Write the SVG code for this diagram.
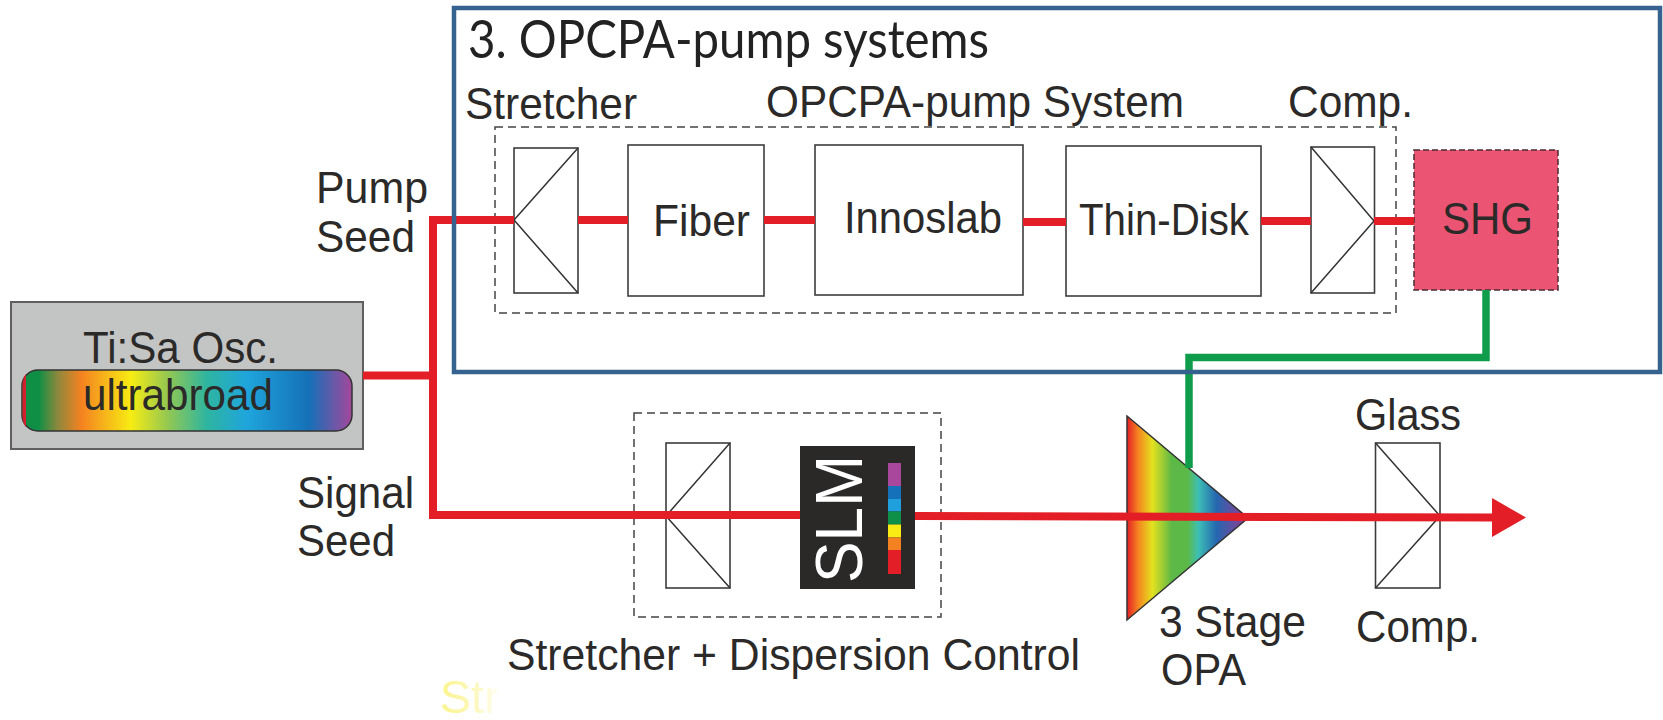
<svg xmlns="http://www.w3.org/2000/svg" width="1663" height="720" viewBox="0 0 1663 720">
<style>
text{font-family:"Liberation Sans",Arial,sans-serif;font-size:45px;fill:#2b2a29}
.box{fill:#fff;stroke:#3c3c3c;stroke-width:1.6}
.ln{fill:none;stroke:#333;stroke-width:1.5}
.dash{fill:none;stroke:#444;stroke-width:1.5;stroke-dasharray:8 5}
.red{fill:none;stroke:#e31e26;stroke-width:8}
.green{fill:none;stroke:#0f9d4b;stroke-width:7.500}
</style>
<defs>
<linearGradient id="rb"><stop offset="0" stop-color="#0e8f45"/><stop offset=".05" stop-color="#0e8f45"/><stop offset=".11" stop-color="#90883c"/><stop offset=".18" stop-color="#f58220"/><stop offset=".33" stop-color="#f7ec13"/><stop offset=".44" stop-color="#95c850"/><stop offset=".56" stop-color="#2eb5a0"/><stop offset=".68" stop-color="#1fa5dc"/><stop offset=".87" stop-color="#1570b8"/><stop offset="1" stop-color="#a5479b"/></linearGradient>
<linearGradient id="tri"><stop offset="0" stop-color="#e31e26"/><stop offset=".09" stop-color="#f58220"/><stop offset=".21" stop-color="#e4e21f"/><stop offset=".37" stop-color="#5cb947"/><stop offset=".5" stop-color="#5cb947"/><stop offset=".59" stop-color="#3dbfb5"/><stop offset=".74" stop-color="#2567b0"/><stop offset=".97" stop-color="#8c3f97"/></linearGradient>
<linearGradient id="fade"><stop offset="0" stop-color="#fbf48c"/><stop offset=".6" stop-color="#fcf8c0"/><stop offset="1" stop-color="#fffef2"/></linearGradient>
<marker id="arrow" markerUnits="userSpaceOnUse" markerWidth="36" markerHeight="40" refX="1" refY="19.500" orient="auto"><path d="M0 0L34 19.500L0 39Z" fill="#e31e26"/></marker>
<clipPath id="cut"><rect x="430" y="670" width="67" height="45"/></clipPath>
</defs>
<rect width="1663" height="720" fill="#fff"/>

<g id="osc">
<rect x="11" y="302" width="352" height="147" fill="#c3c4c4" stroke="#5f5f5f" stroke-width="2"/>
<rect x="22" y="370" width="330" height="61" rx="16" fill="url(#rb)" stroke="#333" stroke-width="1.5"/>
<path d="M26 374Q22.500 378 22.500 386V415Q22.500 423 26 427Z" fill="#d3202c"/>
<text x="83" y="363" textLength="195" lengthAdjust="spacingAndGlyphs">Ti:Sa Osc.</text>
<text x="83" y="410" textLength="190" lengthAdjust="spacingAndGlyphs">ultrabroad</text>
</g>

<g id="pump-seed-label"><text x="316" y="203" textLength="112" lengthAdjust="spacingAndGlyphs">Pump</text><text x="316" y="252" textLength="99" lengthAdjust="spacingAndGlyphs">Seed</text></g>
<g id="signal-seed-label"><text x="297" y="508" textLength="117" lengthAdjust="spacingAndGlyphs">Signal</text><text x="297" y="556" textLength="98" lengthAdjust="spacingAndGlyphs">Seed</text></g>

<g id="pump-system">
<rect class="dash" x="495" y="127" width="901" height="186"/>
<text x="766" y="117" textLength="418" lengthAdjust="spacingAndGlyphs">OPCPA-pump System</text>
</g>
<g id="pump-stretcher"><rect class="box" x="514" y="148" width="64" height="145"/><path class="ln" d="M578 148L514 220L578 293"/><text x="465" y="119" textLength="172" lengthAdjust="spacingAndGlyphs">Stretcher</text></g>
<g id="fiber"><rect class="box" x="628" y="145" width="136" height="151"/><text x="653" y="236" textLength="97" lengthAdjust="spacingAndGlyphs">Fiber</text></g>
<g id="innoslab"><rect class="box" x="815" y="145" width="208" height="150"/><text x="844" y="233" textLength="158" lengthAdjust="spacingAndGlyphs">Innoslab</text></g>
<g id="thin-disk"><rect class="box" x="1066" y="146" width="195" height="150"/><text x="1079" y="235" textLength="170" lengthAdjust="spacingAndGlyphs">Thin-Disk</text></g>
<g id="pump-comp"><rect class="box" x="1311" y="147" width="63.500" height="146"/><path class="ln" d="M1311 147L1374 221L1311 293"/><text x="1288" y="117" textLength="125" lengthAdjust="spacingAndGlyphs">Comp.</text></g>
<g id="shg"><rect x="1414" y="150" width="144" height="140" fill="#eb5573" stroke="#4a2a35" stroke-width="1.5" stroke-dasharray="6 3"/><text x="1442" y="234" textLength="91" lengthAdjust="spacingAndGlyphs">SHG</text></g>

<g id="signal-stretcher">
<rect class="dash" x="634" y="413" width="307" height="204"/>
<rect class="box" x="666" y="443" width="64" height="145"/><path class="ln" d="M730 443L666 516L730 588"/>
<text x="507" y="670" textLength="573" lengthAdjust="spacingAndGlyphs">Stretcher + Dispersion Control</text>
</g>
<g id="opa"><path d="M1127 416L1248 518L1127 620Z" fill="url(#tri)" stroke="#333" stroke-width="1.500"/><text x="1159" y="637" textLength="147" lengthAdjust="spacingAndGlyphs">3 Stage</text><text x="1161" y="685" textLength="85" lengthAdjust="spacingAndGlyphs">OPA</text></g>
<g id="glass"><rect class="box" x="1375.500" y="443" width="64.500" height="145"/><path class="ln" d="M1375.500 443L1440 516L1375.500 588"/><text x="1355" y="430" textLength="106" lengthAdjust="spacingAndGlyphs">Glass</text><text x="1356" y="642" textLength="124" lengthAdjust="spacingAndGlyphs">Comp.</text></g>

<g id="connectors">
<path class="red" d="M363 375.500H431"/>
<path class="red" d="M514 220H433V515H800"/>
<path class="red" d="M578 220H628M764 220H815M1023 222H1066M1261 221H1311M1374 221H1414"/>
<path class="red" d="M915 516L1493 517.500" marker-end="url(#arrow)"/>
<path class="green" d="M1486 290V357.500H1189V468"/>
</g>

<g id="slm">
<rect x="800" y="446" width="115" height="143" fill="#2a2928"/>
<text transform="translate(862 583) rotate(-90)" textLength="128" lengthAdjust="spacingAndGlyphs" style="font-size:66px;fill:#fff">SLM</text>
<rect x="888" y="463" width="13" height="23" fill="#a8479b"/><rect x="888" y="486" width="13" height="13" fill="#1572ba"/><rect x="888" y="499" width="13" height="12.500" fill="#1fa0dc"/><rect x="888" y="511.500" width="13" height="13" fill="#0e9048"/><rect x="888" y="524.500" width="13" height="13" fill="#f8ec14"/><rect x="888" y="537.500" width="13" height="12.500" fill="#f58220"/><rect x="888" y="550" width="13" height="24" fill="#e31e26"/>
</g>

<g id="opcpa-frame">
<rect x="454" y="8" width="1206" height="364" fill="none" stroke="#36628f" stroke-width="4.500"/>
<text x="468" y="58" textLength="521" lengthAdjust="spacingAndGlyphs" style="font-family:Lato,'Open Sans',sans-serif;font-size:52px;fill:#222">3. OPCPA-pump systems</text>
</g>
<g clip-path="url(#cut)"><text x="440" y="713" style="fill:url(#fade);font-size:47px">Str</text></g>
</svg>
